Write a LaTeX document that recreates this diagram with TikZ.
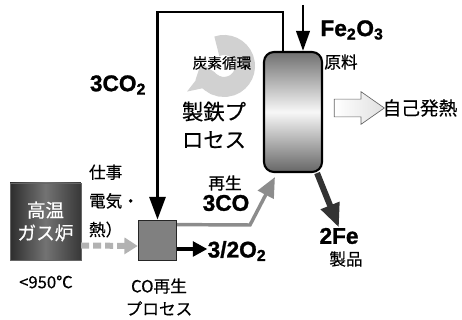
\documentclass[tikz,border=0pt]{standalone}
\usepackage{fontspec}
\setmainfont{Noto Sans CJK JP}[FakeBold=0.4]
\newfontfamily\latfont{Liberation Sans}[BoldFeatures={FakeBold=1.2}]
\usepackage{tikz}
\usetikzlibrary{positioning}
\usetikzlibrary{arrows.meta,shapes.arrows}
\usetikzlibrary{calc}
\tikzstyle{reactorbox}=[rectangle,draw=black,line width=1.6pt,rounded corners=7.5pt,minimum width=43.5pt,minimum height=90pt,top color=black!56,bottom color=black!60,middle color=black!3]
\tikzstyle{hotbox}=[rectangle,draw=black!60,minimum width=53pt,minimum height=58pt,left color=black!82,right color=black!78,middle color=black!55,text=white,align=center,font=\fontsize{14pt}{17pt}\selectfont]
\tikzstyle{cobox}=[rectangle,draw=black!85,line width=0.6pt,fill=black!50,minimum width=29pt,minimum height=30pt]
\tikzstyle{heatarrow}=[single arrow,draw=black!60,line width=0.5pt,left color=white,right color=black!12,minimum height=37.5pt,inner sep=6.4pt,single arrow head extend=5.6pt,single arrow tip angle=70]
\tikzstyle{feed} = [draw,line width=2.2pt,-{Triangle[width=12pt,length=17pt]}]
\tikzstyle{feedin} = [draw,line width=2.2pt,-{Triangle[width=10pt,length=15pt]}]
\tikzstyle{regen} = [draw,black!45,line width=2.6pt,-{Triangle[width=13pt,length=15pt]}]
\tikzstyle{oxyarrow} = [draw,line width=3pt,-{Triangle[width=11pt,length=11pt]}]
\tikzstyle{product} = [draw,black!80,line width=4.5pt,-{Triangle[width=14pt,length=18pt]}]
\tikzstyle{hotflow} = [draw,black!30,line width=4.5pt,dash pattern=on 6pt off 3pt,-{Triangle[width=12pt,length=10pt]}]
\tikzstyle{cyclearrow} = [draw,black!18,line width=15pt,-{Triangle[width=30pt,length=13pt]}]
\tikzstyle{formula} = [font=\latfont\bfseries\fontsize{17pt}{20pt}\selectfont,inner sep=0pt]
\tikzstyle{jpsmall} = [font=\fontsize{12.5pt}{15pt}\selectfont,inner sep=0pt]
\tikzset{jpmulti/.style={align=left,inner sep=0pt}}

\begin{document}
\begin{tikzpicture}[x=0.75pt,y=-0.75pt]

 \useasboundingbox (0,0) rectangle (462,320);

 %carbon cycle
 \coordinate (cyc) at (224,66);
 \draw[cyclearrow] ($(cyc)+(-110:21)$) arc[start angle=-110,end angle=168,radius=21];
 \node[inner sep=0pt,font=\fontsize{11pt}{13pt}\selectfont] (cyclab) at (222,63) {炭素循環};

 %main blocks
 \node[reactorbox] (reactor) at (293,112) {};
 \node[hotbox] (hot) at (45.5,221.5) {高温\\ガス炉};
 \node[cobox] (co) at (157.5,240) {};
 \node[heatarrow] (heat) at (353,108) {};

 %formulas
 \foreach \x/\y/\name/\label in {118/85/co2/{3CO\textsubscript{2}}, 352/30/feo/{Fe\textsubscript{2}O\textsubscript{3}},
          226/203/co3/{3CO}, 237/251/o2/{3/2O\textsubscript{2}}, 339/236/fe/{2Fe}}
        \node[formula] (\name) at (\x,\y) {\label};

 %small labels
 \foreach \x/\y/\name/\label in {341/62/raw/原料, 346/259/prod/製品, 225/183/regenlab/再生}
        \node[jpsmall] (\name) at (\x,\y) {\label};

 \node[jpmulti,font=\fontsize{16pt}{21pt}\selectfont] (iron) at (214,125) {製鉄プ\\ロセス};
 \node[font=\fontsize{14pt}{17pt}\selectfont,inner sep=0pt] (self) at (420,108) {自己発熱};
 \node[jpmulti,font=\fontsize{12.5pt}{19.5pt}\selectfont] (work) at (114,201) {仕事\\[2pt]電気・\\[2pt]熱）};
 \node[font=\fontsize{12.5pt}{15pt}\selectfont,inner sep=0pt] (temp) at (46,282) {<950℃};
 \node[align=center,inner sep=0pt,font=\fontsize{12.5pt}{17pt}\selectfont] (colab) at (159,297) {CO再生\\プロセス};

 %connectors
 \coordinate (fbr) at (283,12);
 \coordinate (fbl) at (157.5,12);
 \path[feed] (reactor.north -| fbr) -- (fbr) -- (fbl) -- (co.north);

 \coordinate (fetop) at (303,5);
 \path[feedin] (fetop) -- (fetop |- reactor.north);

 \coordinate (bend) at (250,225);
 \path[regen] ($(co.north east)+(0,5)$) -- (bend) -- ($(reactor.south west)+(12,4)$);

 \coordinate (oxstart) at ($(co.east)+(0,9)$);
 \path[oxyarrow] (oxstart) -- (oxstart -| o2.west);

 \path[product] ($(reactor.south east)+(-6,0)$) -- (fe.north);

 \path[hotflow] ($(hot.east)+(0,24)$) -- ($(co.west)+(0,6)$);

\end{tikzpicture}
\end{document}
